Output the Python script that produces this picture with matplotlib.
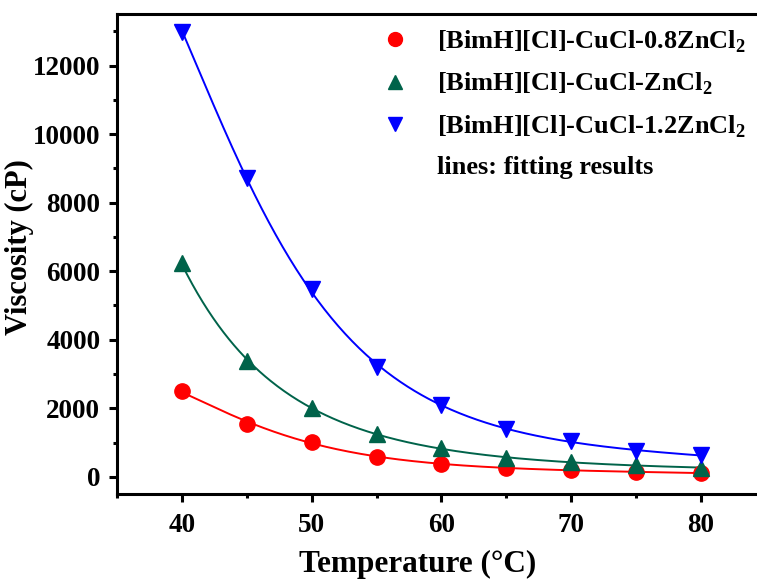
import numpy as np
import matplotlib
matplotlib.use("Agg")
import matplotlib.pyplot as plt
from matplotlib.lines import Line2D
from matplotlib.ticker import MultipleLocator

plt.rcParams["font.family"] = "Liberation Serif"
plt.rcParams["font.weight"] = "bold"
plt.rcParams["mathtext.fontset"] = "custom"
plt.rcParams["mathtext.rm"] = "Liberation Serif:bold"
plt.rcParams["mathtext.bf"] = "Liberation Serif:bold"

temperature = [40, 45, 50, 55, 60, 65, 70, 75, 80]
visc_08 = [2500, 1550, 1030, 590, 380, 260, 190, 150, 110]
visc_10 = [6230, 3390, 2020, 1240, 840, 560, 420, 340, 270]
visc_12 = [12980, 8730, 5480, 3200, 2110, 1400, 1050, 760, 630]

labels = [
    "[BimH][Cl]-CuCl-0.8ZnCl$_2$",
    "[BimH][Cl]-CuCl-ZnCl$_2$",
    "[BimH][Cl]-CuCl-1.2ZnCl$_2$",
]
colors = ["#ff0000", "#00634a", "#0000ff"]
markers = ["o", "^", "v"]

fig = plt.figure(figsize=(7.57, 5.81), dpi=100)
ax = fig.add_axes([0.1546, 0.1497, 0.857, 0.826])

t = np.array(temperature, dtype=float)
t_fine = np.linspace(40, 80, 300)
handles = []
for y, c, m, lab in zip([visc_08, visc_10, visc_12], colors, markers, labels):
    y = np.array(y, dtype=float)
    # smooth fit: quartic in ln(viscosity)
    coef = np.polyfit(t, np.log(y), 4)
    ax.plot(t_fine, np.exp(np.polyval(coef, t_fine)), color=c, lw=1.4, zorder=2)
    ax.plot(t, y, linestyle="none", marker=m, color=c, markersize=11, zorder=3)
    handles.append(Line2D([], [], linestyle="none", marker=m, color=c,
                          markersize=10, label=lab))
handles.append(Line2D([], [], linestyle="none", label="lines: fitting results"))

ax.set_xlim(35, 85)
ax.set_ylim(-500, 13500)
ax.xaxis.set_major_locator(MultipleLocator(10))
ax.xaxis.set_minor_locator(MultipleLocator(5))
ax.yaxis.set_major_locator(MultipleLocator(2000))
ax.yaxis.set_minor_locator(MultipleLocator(1000))

for side in ["left", "bottom", "top"]:
    ax.spines[side].set_linewidth(2.2)
ax.spines["right"].set_visible(False)
ax.tick_params(which="major", direction="out", length=6, width=2.2,
               labelsize=19.5, top=False, right=False)
ax.tick_params(axis="x", which="major", pad=8)
ax.tick_params(axis="y", which="major", pad=6)
ax.tick_params(which="minor", direction="out", length=3, width=2.2,
               top=False, right=False)

ax.set_xlabel("Temperature (\u00b0C)", fontsize=22.5, fontweight="bold", labelpad=8.5)
ax.set_ylabel("Viscosity (cP)", fontsize=22, fontweight="bold", labelpad=-1)
ax.xaxis.label.set_x(0.464)
ax.yaxis.label.set_y(0.514)

leg = ax.legend(handles=handles, loc="upper left", bbox_to_anchor=(0.5046, 0.951),
                bbox_transform=fig.transFigure, frameon=False, fontsize=19,
                handlelength=1.0, handletextpad=1.09, labelspacing=0.6,
                borderpad=0, borderaxespad=0)

fig.savefig("out.png", dpi=100)
